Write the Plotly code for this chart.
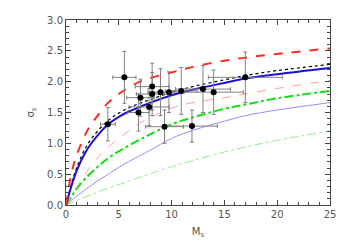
import plotly.graph_objects as go

# data points
obs_m = [3.96, 5.53, 7.05, 6.86, 7.87, 8.16, 8.16, 8.95, 9.75, 9.33, 10.91, 12.97, 13.98, 16.98, 11.93]
obs_s = [1.31, 2.07, 1.74, 1.50, 1.59, 1.92, 1.80, 1.83, 1.83, 1.27, 1.85, 1.88, 1.83, 2.07, 1.28]
obs_m_err = [0.7, 1.1, 1.3, 1.0, 1.9, 1.6, 1.5, 1.2, 1.0, 1.8, 1.5, 2.6, 2.8, 3.5, 2.4]
obs_s_err = [0.27, 0.42, 0.30, 0.30, 0.30, 0.38, 0.35, 0.38, 0.33, 0.27, 0.38, 0.38, 0.36, 0.41, 0.26]

# model curves
curve_m = [0, 0.5, 1, 2, 3, 4, 5, 6, 7, 8, 10, 12, 15, 17, 20, 25]
red_dash = [0, 0.50, 0.80, 1.20, 1.45, 1.66, 1.80, 1.91, 2.00, 2.06, 2.15, 2.24, 2.34, 2.39, 2.45, 2.54]
black_dot = [0, 0.33, 0.60, 0.97, 1.20, 1.37, 1.49, 1.58, 1.65, 1.71, 1.83, 1.92, 2.03, 2.10, 2.18, 2.28]
blue_solid = [0, 0.30, 0.55, 0.90, 1.13, 1.31, 1.43, 1.52, 1.59, 1.66, 1.78, 1.87, 1.98, 2.05, 2.12, 2.22]
salmon_dash = [0, 0.15, 0.29, 0.55, 0.77, 0.94, 1.08, 1.21, 1.33, 1.42, 1.57, 1.66, 1.74, 1.80, 1.89, 2.02]
green_dashdot = [0, 0.13, 0.26, 0.46, 0.62, 0.76, 0.87, 0.97, 1.06, 1.15, 1.31, 1.42, 1.56, 1.63, 1.73, 1.85]
purple_thin = [0, 0.07, 0.14, 0.27, 0.39, 0.50, 0.61, 0.71, 0.80, 0.89, 1.08, 1.21, 1.36, 1.45, 1.54, 1.66]
lightgreen_thin = [0, 0.035, 0.07, 0.14, 0.21, 0.27, 0.33, 0.39, 0.45, 0.51, 0.62, 0.72, 0.86, 0.94, 1.05, 1.20]

fig = go.Figure()

def add_curve(y, color, width, dash):
    fig.add_trace(go.Scatter(x=curve_m, y=y, mode="lines", line=dict(color=color, width=width, dash=dash, shape="spline"),
                             hoverinfo="skip", showlegend=False))

add_curve(lightgreen_thin, "#90f090", 1, "dashdot")
add_curve(purple_thin, "#9090ff", 1, "solid")
add_curve(green_dashdot, "#10e010", 2, "dashdot")
add_curve(salmon_dash, "#ffa090", 1, "dash")
add_curve(black_dot, "#000000", 1.2, "dot")
add_curve(blue_solid, "#1a10d8", 2, "solid")
add_curve(red_dash, "#ff2a1a", 2, "dash")

fig.add_trace(go.Scatter(
    x=obs_m, y=obs_s, mode="markers",
    marker=dict(color="black", size=6),
    error_x=dict(type="data", array=obs_m_err, color="#808080", thickness=1, width=2),
    error_y=dict(type="data", array=obs_s_err, color="#808080", thickness=1, width=2),
    showlegend=False,
))

axis_common = dict(
    showline=True, linecolor="#444444", linewidth=1, mirror="allticks",
    ticks="inside", ticklen=5, tickcolor="#444444", showgrid=False, zeroline=False,
    automargin=False,
    tickfont=dict(family="DejaVu Sans", size=10, color="#555555"),
)

fig.update_layout(
    width=341, height=241,
    margin=dict(l=58, r=19, t=12, b=44),
    paper_bgcolor="white", plot_bgcolor="white",
    xaxis=dict(range=[0, 25], dtick=5, tick0=0,
               minor=dict(ticks="inside", dtick=1, ticklen=3, tickcolor="#444444"),
               title=dict(text="M<sub>s</sub>", font=dict(family="DejaVu Sans", size=10, color="#555555"), standoff=8),
               **axis_common),
    yaxis=dict(range=[0, 3], dtick=0.5, tick0=0, tickformat=".1f",
               minor=dict(ticks="inside", dtick=0.1, ticklen=3, tickcolor="#444444"),
               title=dict(text="σ<sub>s</sub>", font=dict(family="DejaVu Sans", size=10, color="#555555"), standoff=10),
               **axis_common),
)

fig.write_html("out.html")
